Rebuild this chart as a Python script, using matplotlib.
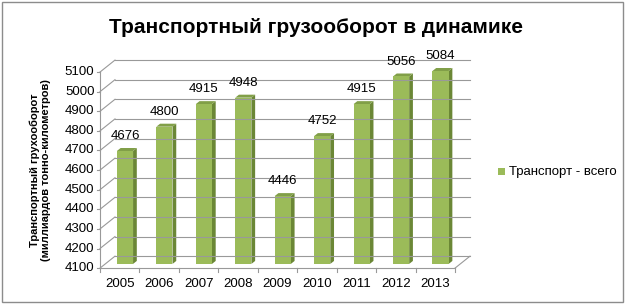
import matplotlib.pyplot as plt
from matplotlib.patches import Polygon, Rectangle

# data
years = ["2005", "2006", "2007", "2008", "2009", "2010", "2011", "2012", "2013"]
values = [4676, 4800, 4915, 4948, 4446, 4752, 4915, 5056, 5084]
yticks = [4100, 4200, 4300, 4400, 4500, 4600, 4700, 4800, 4900, 5000, 5100]

title = "Транспортный грузооборот в динамике"
ylabel = "Транспортный грухооборот\n(миллиардов тонно-километров)"
legend_label = "Транспорт - всего"

plt.rcParams['font.family'] = ['Liberation Sans', 'DejaVu Sans']

fig = plt.figure(figsize=(6.25, 3.04), dpi=100)
ax = fig.add_axes([0.16, 0.118, 0.568, 0.645])
ymin, ymax = 4100, 5100
ax.set_xlim(0, len(years))
ax.set_ylim(ymin, ymax)
ax.axis('off')

# depth of the 3d box, in data units
ddx = 0.38
ddy = 61
grid_c = '#999999'

# back wall gridlines and left wall
for v in yticks:
    ax.plot([ddx, len(years) + ddx], [v + ddy, v + ddy], color=grid_c, lw=0.8, clip_on=False)
    ax.plot([0, ddx], [v, v + ddy], color=grid_c, lw=0.8, clip_on=False)
    ax.plot([-0.08, 0], [v, v], color=grid_c, lw=0.8, clip_on=False)
    ax.text(-0.14, v, str(v), ha='right', va='center', fontsize=9.5, clip_on=False)

# front axes
ax.plot([0, 0], [ymin, ymax], color=grid_c, lw=0.8, clip_on=False)
ax.plot([0, len(years)], [ymin, ymin], color=grid_c, lw=0.8, clip_on=False)
ax.plot([len(years), len(years) + ddx], [ymin, ymin + ddy], color=grid_c, lw=0.8, clip_on=False)
for i in range(len(years) + 1):
    ax.plot([i, i], [ymin, ymin - 20], color=grid_c, lw=0.8, clip_on=False)

# bars
w = 0.41
f0, f1 = 0.35, 0.6
front_c, side_c, top_c = '#9bbb59', '#6b8736', '#819f48'
for i, (yr, v) in enumerate(zip(years, values)):
    x0 = i + 0.5 - w / 2 + ddx * f0
    x1 = x0 + w
    b0 = ymin + ddy * f0
    t0 = v + ddy * f0
    ox = ddx * (f1 - f0)
    oy = ddy * (f1 - f0)
    ax.add_patch(Polygon([(x1, b0), (x1 + ox, b0 + oy), (x1 + ox, t0 + oy), (x1, t0)],
                         closed=True, fc=side_c, ec='none', clip_on=False))
    ax.add_patch(Polygon([(x0, t0), (x1, t0), (x1 + ox, t0 + oy), (x0 + ox, t0 + oy)],
                         closed=True, fc=top_c, ec='none', clip_on=False))
    ax.add_patch(Rectangle((x0, b0), w, t0 - b0, fc=front_c, ec='none', clip_on=False))
    ax.text((x0 + x1) / 2, t0 + 45, str(v), ha='center', va='bottom', fontsize=9.5, clip_on=False)
    ax.text(i + 0.5, ymin - 50, yr, ha='center', va='top', fontsize=9.5, clip_on=False)

fig.text(0.506, 0.91, title, ha='center', va='center', fontsize=15, fontweight='bold')
fig.text(0.064, 0.44, ylabel, ha='center', va='center', rotation=90,
         fontsize=8, fontweight='bold', linespacing=1.15)

# legend
fig.patches.append(Rectangle((0.797, 0.424), 0.011, 0.022, transform=fig.transFigure,
                             fc=front_c, ec='none'))
fig.text(0.815, 0.435, legend_label, ha='left', va='center', fontsize=9.5)

# chart border
fig.patches.append(Rectangle((0.003, 0.005), 0.994, 0.99, transform=fig.transFigure,
                             fill=False, ec='#8c8c8c', lw=1))

fig.savefig('out.png', dpi=100)
